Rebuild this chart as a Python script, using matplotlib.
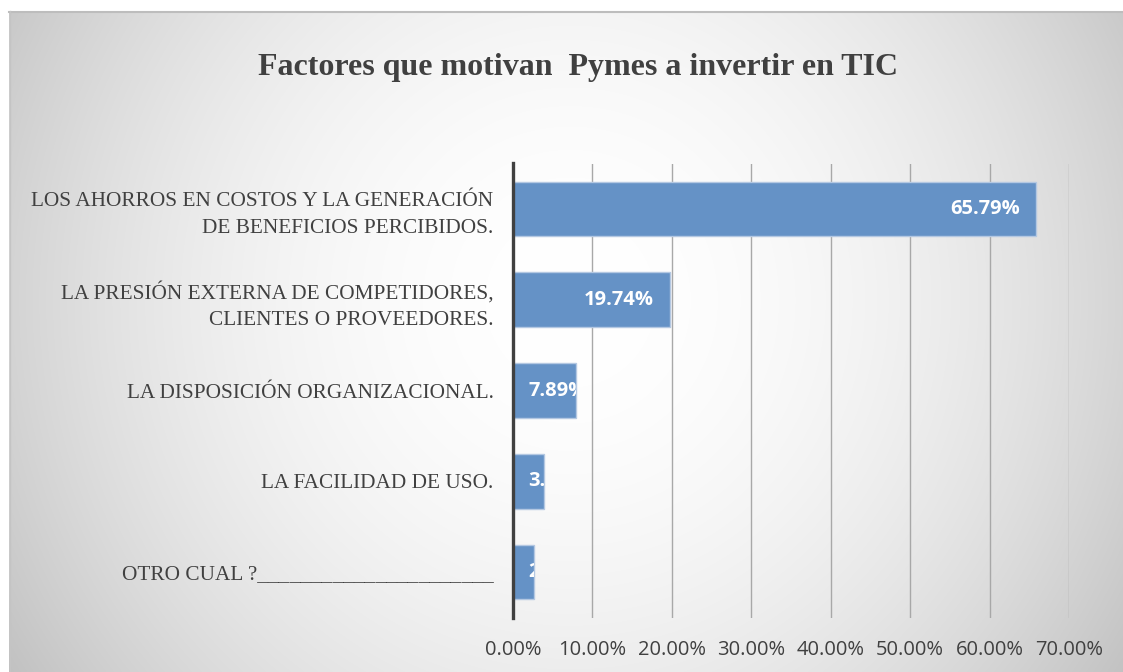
import matplotlib
matplotlib.use("Agg")
import matplotlib.pyplot as plt
from matplotlib.transforms import Bbox, TransformedBbox
import numpy as np

# data
categories = [
    "LOS AHORROS EN COSTOS Y LA GENERACIÓN\nDE BENEFICIOS PERCIBIDOS.",
    "LA PRESIÓN EXTERNA DE COMPETIDORES,\nCLIENTES O PROVEEDORES.",
    "LA DISPOSICIÓN ORGANIZACIONAL.",
    "LA FACILIDAD DE USO.",
    "OTRO CUAL ?______________________",
]
values = [65.79, 19.74, 7.89, 3.95, 2.63]
xticks = [0, 10, 20, 30, 40, 50, 60, 70]
title = "Factores que motivan  Pymes a invertir en TIC"

W, H = 1123, 672
fig = plt.figure(figsize=(W / 100, H / 100), dpi=100)

# ---- background: soft grey gradient with white margin top/left
bg = fig.add_axes([0, 0, 1, 1])
yy, xx = np.mgrid[0:H, 0:W]
g = 1 - 0.17 * ((xx - 570) / 560.0) ** 2 - 0.06 * ((yy - 300) / 340.0) ** 2
g = np.clip(g, 0.74, 1.0)
img = np.dstack([g, g, g])
img[:11, :, :] = 1.0
img[:, :9, :] = 1.0
bg.imshow(img, extent=(0, W, H, 0), aspect="auto", interpolation="bilinear")
bg.plot([9, W], [11.5, 11.5], color="#bdbdbd", lw=1.5)
bg.plot([9.5, 9.5], [11, H], color="#c4c4c4", lw=1.0)
bg.set_xlim(0, W)
bg.set_ylim(H, 0)
bg.axis("off")

# ---- chart
ax = fig.add_axes([513 / W, 54.5 / H, 556 / W, 454 / H])
ax.set_facecolor("none")
ypos = np.arange(len(values))
bars = ax.barh(ypos, values, height=0.6, color="#6592c6",
               edgecolor="#b4c8e2", linewidth=1, zorder=3)
ax.set_ylim(len(values) - 0.5, -0.5)
ax.set_xlim(0, 70)

ax.set_xticks(xticks)
ax.set_xticklabels([f"{t:.2f}%" for t in xticks], fontsize=14.5,
                   family="Open Sans", color="#404040")
ax.set_yticks(ypos)
ax.set_yticklabels(categories, fontsize=15.3, family="Liberation Serif",
                   color="#404040", linespacing=1.55)
ax.tick_params(axis="x", length=0, pad=16)
ax.tick_params(axis="y", length=0, pad=14)

ax.grid(axis="x", color="#a8a8a8", linewidth=1, zorder=0)
for s in ["top", "right", "bottom"]:
    ax.spines[s].set_visible(False)
ax.spines["left"].set_color("#404040")
ax.spines["left"].set_linewidth(2.4)
ax.spines["left"].set_zorder(4)

# data labels, cut off at the bar end like the original
for b, v in zip(bars, values):
    y = b.get_y() + b.get_height() / 2
    if v > 15:
        t = ax.text(v - 2.0, y, f"{v:.2f}%", ha="right", va="center",
                    color="white", fontsize=14.5, fontweight="bold",
                    family="Open Sans", zorder=5)
    else:
        t = ax.text(1.9, y, f"{v:.2f}%", ha="left", va="center",
                    color="white", fontsize=14.5, fontweight="bold",
                    family="Open Sans", zorder=5)
    box = Bbox.from_extents(0, b.get_y(), v, b.get_y() + b.get_height())
    t.set_clip_box(TransformedBbox(box, ax.transData))
    t.set_clip_on(True)

fig.text(578 / W, 1 - 68 / H, title, ha="center", va="center",
         fontsize=23, fontweight="bold", family="Liberation Serif",
         color="#404040")

fig.savefig("out.png", dpi=100)
